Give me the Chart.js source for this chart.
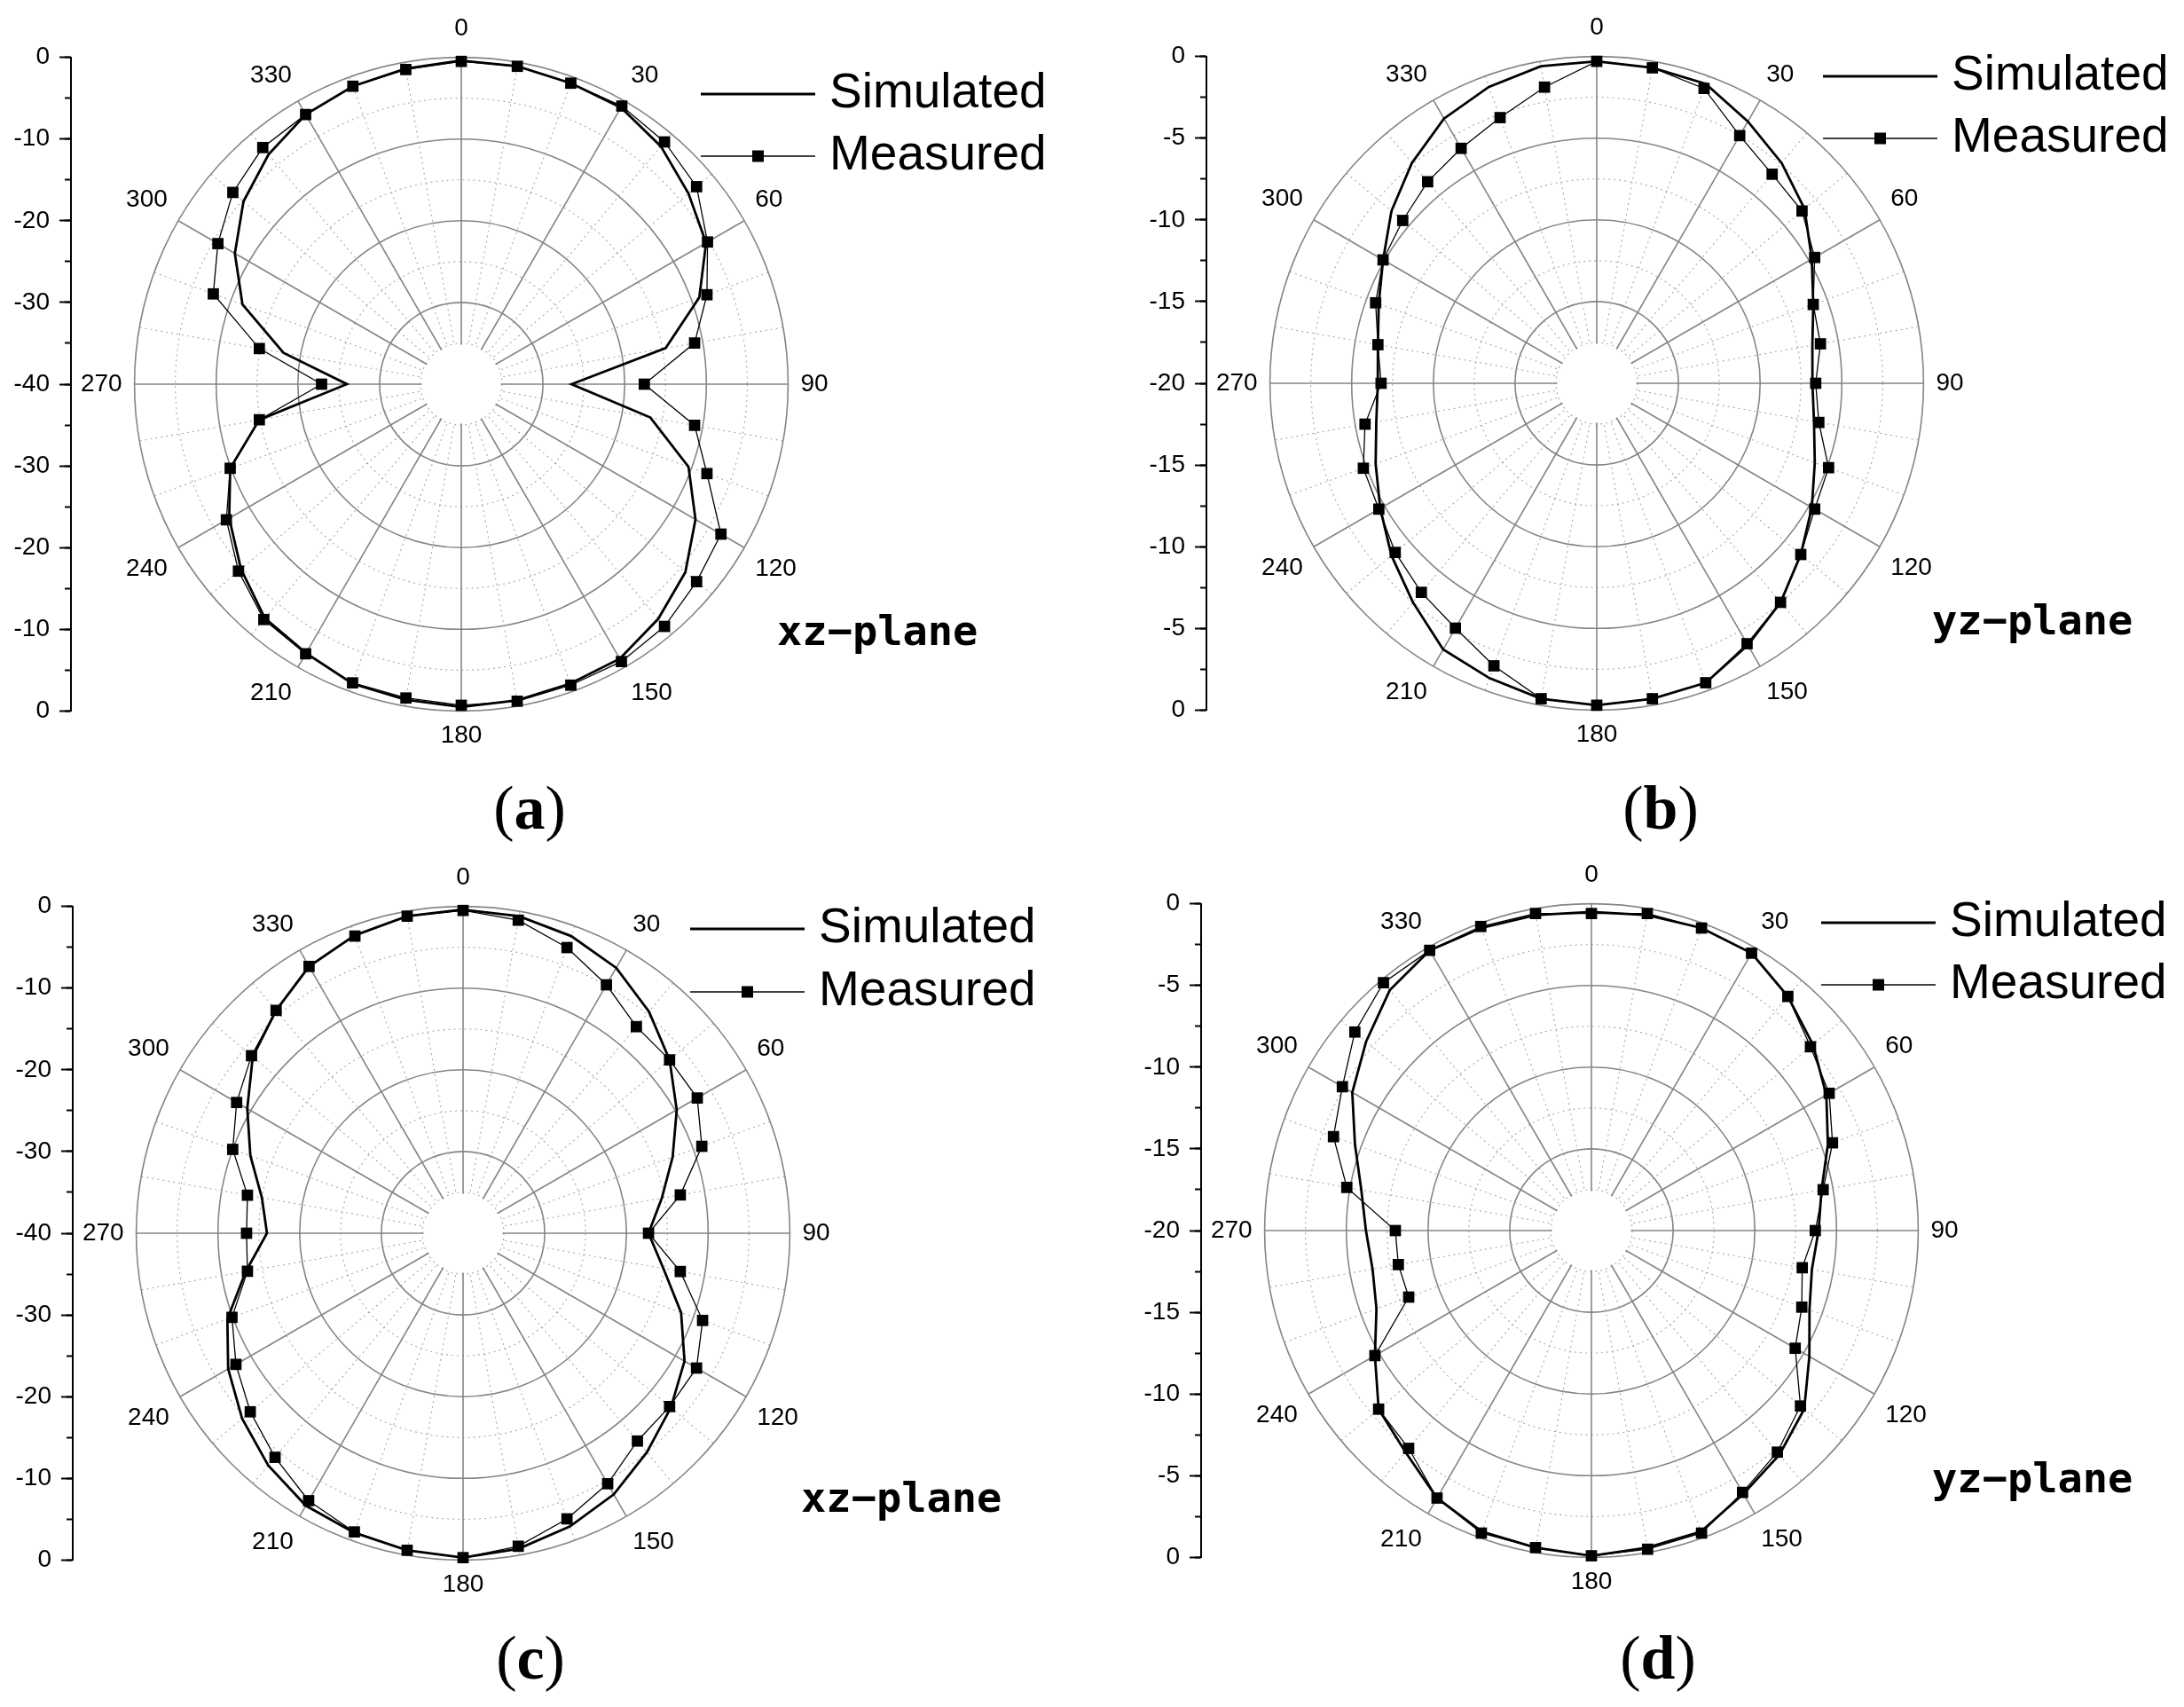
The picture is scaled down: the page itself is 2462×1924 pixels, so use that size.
<!DOCTYPE html>
<html>
<head>
<meta charset="utf-8">
<script src="https://cdn.jsdelivr.net/npm/chart.js@4.4.1/dist/chart.umd.min.js"></script>
<style>
html,body{margin:0;padding:0;background:#fff;}
body{width:2462px;height:1924px;overflow:hidden;position:relative;}
canvas.panel{position:absolute;left:0;top:0;}
.plane{position:absolute;font-family:'DejaVu Sans Mono',monospace;font-weight:bold;font-size:47px;line-height:47px;color:#000;white-space:pre;}
.tag{position:absolute;font-family:'Liberation Serif','DejaVu Serif',serif;font-size:70px;line-height:70px;color:#000;transform:translate(-50%,-50%);white-space:pre;}
</style>
</head>
<body>
<canvas id="ca" class="panel" width="1240" height="846"></canvas>
<canvas id="cb" class="panel" width="1240" height="846"></canvas>
<canvas id="cc" class="panel" width="1240" height="846"></canvas>
<canvas id="cd" class="panel" width="1240" height="846"></canvas>
<div id="texts"></div>
<script>
// ---- data ----
const angleLabels = ['0','10','20','30','40','50','60','70','80','90','100','110','120','130','140','150','160','170',
                     '180','190','200','210','220','230','240','250','260','270','280','290','300','310','320','330','340','350'];
const seriesNames = ['Simulated', 'Measured'];

// (a) xz-plane, dB
const simA  = [-0.4,-0.5,-0.8,-0.9,-2.0,-3.7,-5.4,-9.0,-14.6,-26.5,-16.5,-10.4,-6.9,-4.2,-2.5,-1.2,-1.0,-0.7,
               -0.5,-0.8,-1.0,-2.0,-2.6,-4.8,-7.2,-9.9,-14.9,-26.0,-17.9,-11.5,-8.0,-5.2,-3.3,-1.9,-1.2,-0.8];
const measA = [-0.5,-0.5,-0.8,-0.7,-1.3,-2.4,-5.2,-8.0,-11.0,-17.6,-11.0,-8.0,-3.3,-2.4,-1.3,-0.8,-0.8,-0.6,
               -0.7,-1.0,-1.1,-1.9,-2.4,-4.4,-6.8,-9.9,-14.9,-22.9,-14.9,-7.7,-5.6,-3.5,-2.2,-1.9,-1.2,-0.9];
// (b) yz-plane, dB
const simB  = [-0.3,-0.4,-0.5,-1.5,-2.4,-3.4,-4.8,-5.9,-6.6,-6.8,-6.5,-5.8,-4.8,-3.7,-2.5,-1.5,-0.5,-0.4,
               -0.3,-0.4,-0.8,-1.2,-2.5,-3.6,-4.7,-5.6,-6.3,-6.6,-6.4,-5.8,-4.9,-3.6,-2.4,-1.3,-0.7,-0.3];
const measB = [-0.3,-0.4,-0.8,-2.5,-3.3,-3.6,-4.6,-5.9,-6.1,-6.6,-6.2,-4.9,-4.6,-3.7,-2.5,-1.6,-0.5,-0.4,
               -0.3,-0.4,-1.6,-2.7,-3.3,-3.9,-4.6,-4.8,-5.6,-6.8,-6.4,-5.6,-4.9,-4.5,-3.9,-3.4,-2.7,-1.6];
// (c) xz-plane, dB
const simC  = [-0.4,-0.6,-1.3,-2.5,-4.6,-7.0,-9.8,-12.7,-15.3,-17.3,-15.1,-11.6,-8.7,-6.8,-5.0,-3.1,-1.8,-0.8,
               -0.3,-0.6,-1.0,-1.5,-2.9,-4.7,-6.8,-9.3,-13.0,-16.0,-15.0,-12.3,-9.5,-6.4,-4.4,-2.3,-1.2,-0.6];
const measC = [-0.5,-1.1,-2.8,-4.9,-7.0,-7.0,-6.9,-8.9,-13.0,-17.3,-13.0,-8.8,-7.0,-7.0,-6.8,-4.6,-2.8,-1.1,
               -0.3,-0.6,-1.1,-2.2,-4.2,-6.0,-7.9,-9.9,-13.2,-13.5,-13.2,-10.0,-8.0,-6.2,-4.4,-2.3,-1.3,-0.6];
// (d) yz-plane, dB
const simD  = [-0.5,-0.4,-0.3,-0.4,-1.3,-2.3,-3.4,-4.6,-5.7,-6.1,-6.3,-5.8,-4.6,-3.0,-2.1,-1.4,-0.4,-0.3,
               -0.1,-0.3,-0.4,-1.1,-2.3,-3.0,-4.7,-6.0,-6.4,-6.2,-5.7,-4.6,-3.1,-2.0,-0.8,-0.2,-0.3,-0.4];
const measD = [-0.6,-0.3,-0.3,-0.4,-1.3,-2.5,-3.2,-4.3,-5.6,-6.3,-6.9,-6.3,-5.6,-3.3,-2.3,-1.5,-0.3,-0.2,
               -0.1,-0.3,-0.3,-1.1,-2.6,-3.0,-4.7,-8.1,-8.0,-8.0,-4.8,-3.2,-2.4,-1.1,-0.2,-0.2,-0.2,-0.3];

// radial ranges (dB) and major tick steps
const rangeXZ = [-40, 0];
const rangeYZ = [-20, 0];
const majorStepXZ = 10;
const majorStepYZ = 5;

const planeNames = ['xz\u2212plane', 'yz\u2212plane', 'xz\u2212plane', 'yz\u2212plane'];
const panelTags  = ['a', 'b', 'c', 'd'];

// ---- layout (positions / styles) ----
const layoutCfg = [
  {canvas:'ca', cx:520,  cy:433,  legX:790,  legY:106,  legPad:15, planeX:876,  planeY:687,  tagX:597,  tagY:911},
  {canvas:'cb', cx:1800, cy:432,  legX:2055, legY:86,   legPad:15, planeX:2178, planeY:675,  tagX:1872, tagY:911},
  {canvas:'cc', cx:522,  cy:1390, legX:778,  legY:1047, legPad:16, planeX:903,  planeY:1664, tagX:598,  tagY:1869},
  {canvas:'cd', cx:1794, cy:1387, legX:2053, legY:1040, legPad:15, planeX:2178, planeY:1642, tagX:1869, tagY:1869}
];
const panelData = [
  {sim:simA, meas:measA, range:rangeXZ, major:majorStepXZ},
  {sim:simB, meas:measB, range:rangeYZ, major:majorStepYZ},
  {sim:simC, meas:measC, range:rangeXZ, major:majorStepXZ},
  {sim:simD, meas:measD, range:rangeYZ, major:majorStepYZ}
];

const AXIS_W = 82;
const SYM_W = 129;
const PSW = 106;

function makeSymbol(withMarker) {
  const c = document.createElement('canvas');
  c.width = SYM_W; c.height = 16;
  const g = c.getContext('2d');
  g.strokeStyle = '#000';
  g.lineWidth = withMarker ? 1.6 : 3;
  g.beginPath(); g.moveTo(0, 8); g.lineTo(SYM_W, 8); g.stroke();
  if (withMarker) { g.fillStyle = '#000'; g.fillRect(SYM_W/2 - 6.5, 1.5, 13, 13); }
  return c;
}
const symbols = [makeSymbol(false), makeSymbol(true)];

function panelPlugin(L, major) {
  return {
    id: 'panelFit',
    afterLayout(chart) {
      const r = chart.scales.r;
      const left = L.cx - r.xCenter, top = L.cy - r.yCenter;
      chart.canvas.style.left = left + 'px';
      chart.canvas.style.top = top + 'px';
      ['yMaj', 'yMin'].forEach(id => {
        const s = chart.scales[id];
        s.top = r.yCenter - r.drawingArea;
        s.bottom = r.yCenter + r.drawingArea;
        s.height = s.bottom - s.top;
        s.right = chart.chartArea.left;
        s.left = s.right - AXIS_W;
        s.width = AXIS_W;
        s.configure();
      });
      const lg = chart.legend;
      const pad = L.legPad;
      lg.left = (L.legX - left) + (SYM_W / 2 - PSW / 2) - pad;
      lg.top = (L.legY - top) - pad - 27.5;
      lg.width = 540; lg.height = 220;
      lg.right = lg.left + lg.width; lg.bottom = lg.top + lg.height;
    },
    beforeDatasetsDraw(chart) {
      const r = chart.scales.r;
      const c = chart.ctx;
      const rr = r.getDistanceFromCenterForValue(r.min + major / 2) - 1.5;
      c.save();
      c.fillStyle = '#fff';
      c.beginPath(); c.arc(r.xCenter, r.yCenter, rr, 0, Math.PI * 2); c.fill();
      c.restore();
    }
  };
}

function makePanel(L, D) {
  const [rMin, rMax] = D.range;
  const span = rMax - rMin;
  const minor = D.major / 2;
  const isMajor = v => Math.abs(v % D.major) < 1e-9;
  const tickFont = {family: "'Liberation Sans', Arial, sans-serif", size: 28};
  new Chart(document.getElementById(L.canvas), {
    type: 'radar',
    data: {
      labels: angleLabels,
      datasets: [
        {label: seriesNames[0], data: D.sim, borderColor: '#000', backgroundColor: 'transparent',
         borderWidth: 2.8, pointRadius: 0, fill: false, tension: 0},
        {label: seriesNames[1], data: D.meas, borderColor: '#000', backgroundColor: 'transparent',
         borderWidth: 1.3, pointStyle: 'rect', pointRadius: 9, pointBackgroundColor: '#000',
         pointBorderColor: '#000', pointBorderWidth: 0, fill: false, tension: 0}
      ]
    },
    options: {
      responsive: false, animation: false, events: [],
      layout: {padding: {left: 0, top: 0, right: 292, bottom: 10}},
      plugins: {
        tooltip: {enabled: false},
        legend: {
          position: 'chartArea', align: 'start',
          labels: {
            usePointStyle: true, pointStyleWidth: PSW, padding: L.legPad,
            font: {family: "'Liberation Sans', Arial, sans-serif", size: 55},
            color: '#000',
            generateLabels: (chart) => chart.data.datasets.map((ds, i) => ({
              text: ds.label, pointStyle: symbols[i], fillStyle: '#000', strokeStyle: '#000',
              lineWidth: 0, hidden: false, datasetIndex: i, fontColor: '#000'
            }))
          }
        }
      },
      scales: {
        r: {
          min: rMin, max: rMax,
          ticks: {display: false, stepSize: minor},
          grid: {
            circular: true,
            color: (ctx) => (ctx.tick && isMajor(ctx.tick.value)) ? '#858585' : '#a8a8a8',
            lineWidth: (ctx) => (ctx.tick && isMajor(ctx.tick.value)) ? 1.6 : 1.1
          },
          border: {
            dash: (ctx) => (ctx.tick && isMajor(ctx.tick.value)) ? [] : [2, 4]
          },
          angleLines: {
            color: (ctx) => ctx.index % 3 === 0 ? '#858585' : '#a8a8a8',
            lineWidth: (ctx) => ctx.index % 3 === 0 ? 1.6 : 1.1,
            borderDash: (ctx) => ctx.index % 3 === 0 ? [] : [2, 4]
          },
          pointLabels: {
            display: true,
            callback: (label, index) => index % 3 === 0 ? label : '',
            font: tickFont, color: '#000',
            padding: (ctx) => ctx.index === 0 ? 16 : (ctx.index === 18 ? 11 : 14)
          }
        },
        yMaj: {
          type: 'linear', axis: 'y', position: 'left', min: -span, max: span,
          ticks: {stepSize: D.major, autoSkip: false, callback: (v) => String(Math.abs(v) - span),
                  font: tickFont, color: '#000', padding: 11},
          grid: {drawOnChartArea: false, drawTicks: true, tickLength: 13, tickWidth: 2, tickColor: '#000'},
          border: {display: true, color: '#000', width: 2},
          afterFit: (s) => { s.width = AXIS_W; s.paddingTop = 0; s.paddingBottom = 0; }
        },
        yMin: {
          type: 'linear', axis: 'y', position: 'left', min: -span, max: span,
          ticks: {display: false, stepSize: minor},
          grid: {drawOnChartArea: false, drawTicks: true, tickLength: 7, tickWidth: 2, tickColor: '#000'},
          border: {display: false},
          afterFit: (s) => { s.width = 0; s.paddingTop = 0; s.paddingBottom = 0; }
        }
      }
    },
    plugins: [panelPlugin(L, D.major)]
  });
}

layoutCfg.forEach((L, i) => makePanel(L, panelData[i]));

// text labels
const texts = document.getElementById('texts');
layoutCfg.forEach((L, i) => {
  const p = document.createElement('div');
  p.className = 'plane';
  p.style.left = L.planeX + 'px'; p.style.top = L.planeY + 'px';
  p.textContent = planeNames[i];
  texts.appendChild(p);
  const t = document.createElement('div');
  t.className = 'tag';
  t.style.left = L.tagX + 'px'; t.style.top = L.tagY + 'px';
  t.innerHTML = '(<b>' + panelTags[i] + '</b>)';
  texts.appendChild(t);
});
</script>
</body>
</html>
